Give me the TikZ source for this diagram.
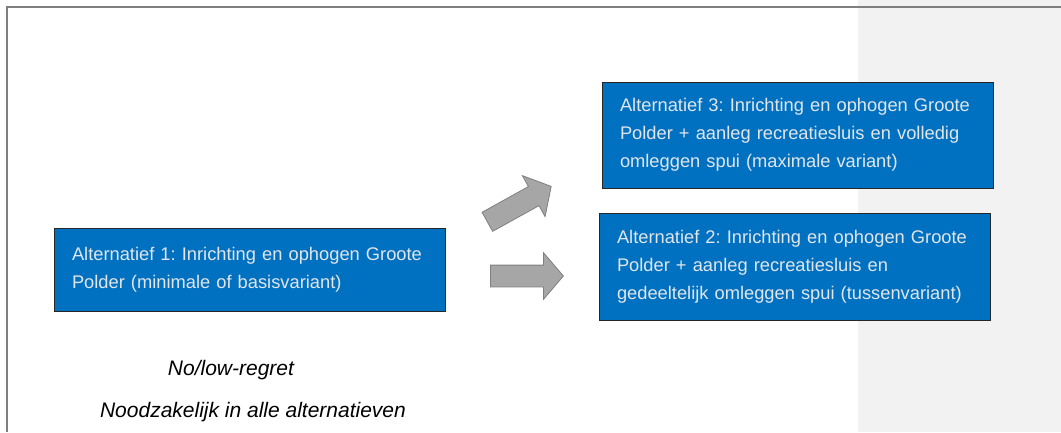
\documentclass[tikz,border=0pt]{standalone}
\usepackage{fontspec}
\setmainfont{Liberation Sans}
\frenchspacing
\definecolor{VariantBlue}{HTML}{0070C0}
\definecolor{VariantText}{HTML}{E2E6EA}
\definecolor{PanelGray}{HTML}{F2F2F2}
\definecolor{FrameGray}{HTML}{7F7F7F}
\definecolor{ArrowGray}{HTML}{A6A6A6}
\usetikzlibrary{positioning,shapes.arrows}
\tikzset{
  variantbox/.style={
    draw=black!85,
    line width=0.8pt,
    fill=VariantBlue,
    text=VariantText,
    align=left,
    font=\fontsize{18.3}{28}\selectfont,
    inner xsep=18pt,
    inner ysep=0pt,
    text width=355pt,
    minimum width=391pt
  },
  stepArrow/.style={
    single arrow,
    draw=FrameGray,
    fill=ArrowGray,
    line width=0.8pt,
    minimum width=46pt,
    minimum height=73pt,
    single arrow head extend=12.5pt,
    single arrow tip angle=99,
    inner xsep=0pt,
    inner ysep=10.5pt,
    anchor=tail
  },
  notetext/.style={font=\fontsize{21}{24}\selectfont\itshape}
}

\begin{document}
\begin{tikzpicture}[x=1pt,y=-1pt]
  \useasboundingbox (0,0) rectangle (1061,432);
  % grey side panel and frame
  \fill[PanelGray] (858,0) rectangle (1061,432);
  \draw[FrameGray,line width=2pt] (7,432) -- (7,7) -- (1061,7);

  \node[variantbox, minimum height=83pt] (alt1) at (249.5,269.5) {%
    Alternatief 1: Inrichting en ophogen Groote\\
    Polder (minimale of basisvariant)
  };
  \node[variantbox, minimum height=106pt] (alt3) at (797.5,135) {%
    Alternatief 3: Inrichting en ophogen Groote\\
    Polder + aanleg recreatiesluis en volledig\\
    omleggen spui (maximale variant)
  };
  \node[variantbox, minimum height=107pt] (alt2) at (794.5,266.5) {%
    Alternatief 2: Inrichting en ophogen Groote\\
    Polder + aanleg recreatiesluis en\\
    gedeeltelijk omleggen spui (tussenvariant)
  };

  \node[stepArrow, rotate=29] (toAlt3) at (487,222) {};
  \node[stepArrow] (toAlt2) at (490,276) {};

  \node[notetext] (regret) at (231,370) {No/low-regret};
  \node[notetext] (needed) at (253,412) {Noodzakelijk in alle alternatieven};
\end{tikzpicture}
\end{document}
